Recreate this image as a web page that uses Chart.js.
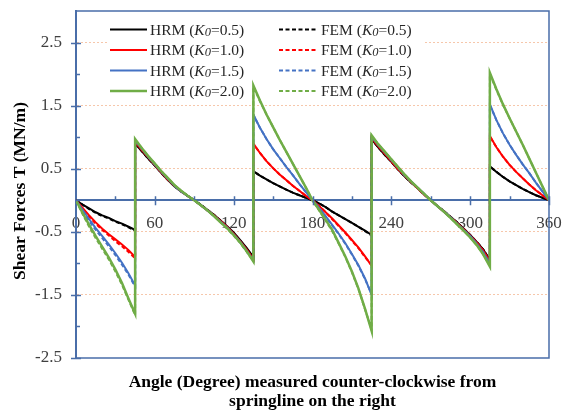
<!DOCTYPE html>
<html>
<head>
<meta charset="utf-8">
<script src="https://cdn.jsdelivr.net/npm/chart.js@4.4.1/dist/chart.umd.min.js"></script>
<style>
html, body { margin: 0; padding: 0; background: #fff; }
</style>
</head>
<body>
<canvas id="shearChart" width="562" height="414"></canvas>
<script>
// angle around the lining (deg); repeated angles are the jumps at 45/135/225/315
let angles = [
    0, 5, 10, 15, 20, 25, 30, 35, 40, 45,
    45, 50, 55, 60, 65, 70, 75, 80, 85, 90, 95, 100, 105, 110, 115, 120, 125, 130, 135,
    135, 140, 145, 150, 155, 160, 165, 170, 175, 180, 185, 190, 195, 200, 205, 210, 215, 220, 225,
    225, 230, 235, 240, 245, 250, 255, 260, 265, 270, 275, 280, 285, 290, 295, 300, 305, 310, 315,
    315, 320, 325, 330, 335, 340, 345, 350, 355, 360
];

// HRM shear force T (MN/m)
let hrmK05 = [
    0, -0.07, -0.13, -0.19, -0.24, -0.28, -0.33, -0.37, -0.42, -0.47,
    0.90, 0.78, 0.66, 0.55, 0.43, 0.32, 0.22, 0.14, 0.07, 0, -0.07, -0.15, -0.23, -0.32, -0.41, -0.51, -0.63, -0.76, -0.90,
    0.46, 0.39, 0.33, 0.27, 0.22, 0.17, 0.12, 0.08, 0.04, 0, -0.05, -0.11, -0.18, -0.24, -0.30, -0.36, -0.42, -0.48, -0.55,
    0.97, 0.84, 0.72, 0.61, 0.49, 0.38, 0.28, 0.19, 0.09, 0, -0.09, -0.17, -0.26, -0.35, -0.45, -0.55, -0.66, -0.78, -0.95,
    0.54, 0.45, 0.37, 0.30, 0.24, 0.18, 0.13, 0.08, 0.04, 0
];
let hrmK10 = [
    0, -0.12, -0.24, -0.35, -0.45, -0.54, -0.62, -0.70, -0.79, -0.90,
    0.93, 0.80, 0.68, 0.56, 0.44, 0.33, 0.23, 0.14, 0.07, 0, -0.08, -0.16, -0.24, -0.33, -0.42, -0.53, -0.65, -0.78, -0.93,
    0.90, 0.75, 0.62, 0.51, 0.41, 0.32, 0.23, 0.15, 0.07, 0, -0.09, -0.19, -0.29, -0.40, -0.51, -0.63, -0.75, -0.89, -1.04,
    0.99, 0.86, 0.74, 0.62, 0.50, 0.39, 0.29, 0.19, 0.09, 0, -0.09, -0.18, -0.27, -0.36, -0.46, -0.56, -0.67, -0.80, -0.97,
    1.02, 0.84, 0.69, 0.56, 0.45, 0.35, 0.25, 0.16, 0.08, 0
];
let hrmK15 = [
    0, -0.15, -0.30, -0.44, -0.57, -0.70, -0.84, -0.99, -1.16, -1.35,
    0.95, 0.82, 0.69, 0.57, 0.45, 0.34, 0.23, 0.14, 0.07, 0, -0.08, -0.16, -0.25, -0.34, -0.43, -0.54, -0.66, -0.80, -0.95,
    1.36, 1.15, 0.97, 0.81, 0.67, 0.53, 0.40, 0.26, 0.13, 0, -0.12, -0.25, -0.39, -0.53, -0.68, -0.85, -1.03, -1.24, -1.50,
    1.01, 0.88, 0.76, 0.64, 0.52, 0.40, 0.30, 0.20, 0.10, 0, -0.09, -0.18, -0.27, -0.37, -0.47, -0.57, -0.69, -0.83, -1.01,
    1.52, 1.27, 1.06, 0.88, 0.72, 0.57, 0.43, 0.28, 0.14, 0
];
let hrmK20 = [
    0, -0.20, -0.39, -0.57, -0.74, -0.91, -1.10, -1.31, -1.56, -1.80,
    0.97, 0.83, 0.70, 0.58, 0.46, 0.35, 0.24, 0.15, 0.07, 0, -0.08, -0.16, -0.25, -0.35, -0.44, -0.55, -0.67, -0.81, -0.97,
    1.82, 1.58, 1.36, 1.16, 0.96, 0.77, 0.58, 0.39, 0.20, 0, -0.15, -0.31, -0.47, -0.68, -0.89, -1.13, -1.40, -1.72, -2.07,
    1.03, 0.89, 0.77, 0.65, 0.53, 0.41, 0.30, 0.20, 0.10, 0, -0.09, -0.18, -0.28, -0.38, -0.48, -0.59, -0.71, -0.86, -1.05,
    2.02, 1.76, 1.52, 1.30, 1.09, 0.88, 0.66, 0.44, 0.22, 0
];

// FEM shear force T (MN/m)
let femK05 = [
    0, -0.07, -0.14, -0.20, -0.25, -0.29, -0.34, -0.38, -0.43, -0.48,
    0.91, 0.78, 0.66, 0.55, 0.43, 0.32, 0.22, 0.14, 0.07, 0, -0.07, -0.15, -0.23, -0.32, -0.42, -0.52, -0.64, -0.77, -0.91,
    0.46, 0.39, 0.33, 0.27, 0.22, 0.17, 0.12, 0.08, 0.04, 0, -0.05, -0.11, -0.18, -0.24, -0.30, -0.36, -0.42, -0.49, -0.56,
    0.97, 0.84, 0.72, 0.61, 0.49, 0.38, 0.28, 0.19, 0.09, 0, -0.09, -0.17, -0.26, -0.35, -0.45, -0.55, -0.66, -0.78, -0.95,
    0.53, 0.45, 0.37, 0.30, 0.24, 0.18, 0.13, 0.08, 0.04, 0
];
let femK10 = [
    0, -0.13, -0.26, -0.37, -0.47, -0.56, -0.65, -0.73, -0.82, -0.92,
    0.93, 0.80, 0.68, 0.56, 0.44, 0.33, 0.23, 0.14, 0.07, 0, -0.08, -0.16, -0.24, -0.33, -0.43, -0.54, -0.66, -0.79, -0.94,
    0.89, 0.75, 0.62, 0.51, 0.41, 0.32, 0.23, 0.15, 0.07, 0, -0.09, -0.19, -0.30, -0.41, -0.52, -0.64, -0.76, -0.90, -1.03,
    0.99, 0.86, 0.74, 0.62, 0.50, 0.39, 0.29, 0.19, 0.09, 0, -0.09, -0.18, -0.27, -0.36, -0.46, -0.56, -0.67, -0.80, -0.97,
    1.01, 0.84, 0.69, 0.56, 0.45, 0.35, 0.25, 0.16, 0.08, 0
];
let femK15 = [
    0, -0.17, -0.33, -0.47, -0.60, -0.73, -0.87, -1.02, -1.18, -1.37,
    0.95, 0.82, 0.69, 0.57, 0.45, 0.34, 0.23, 0.14, 0.07, 0, -0.08, -0.16, -0.25, -0.34, -0.44, -0.55, -0.67, -0.81, -0.96,
    1.35, 1.15, 0.97, 0.81, 0.67, 0.53, 0.40, 0.26, 0.13, 0, -0.12, -0.26, -0.40, -0.54, -0.69, -0.86, -1.04, -1.25, -1.49,
    1.01, 0.88, 0.76, 0.64, 0.52, 0.40, 0.30, 0.20, 0.10, 0, -0.09, -0.18, -0.27, -0.37, -0.47, -0.57, -0.69, -0.83, -1.01,
    1.51, 1.27, 1.06, 0.88, 0.72, 0.57, 0.43, 0.28, 0.14, 0
];
let femK20 = [
    0, -0.22, -0.42, -0.60, -0.77, -0.94, -1.13, -1.34, -1.58, -1.82,
    0.96, 0.83, 0.70, 0.58, 0.46, 0.35, 0.24, 0.15, 0.07, 0, -0.08, -0.16, -0.25, -0.35, -0.45, -0.56, -0.68, -0.82, -0.96,
    1.80, 1.57, 1.36, 1.16, 0.96, 0.77, 0.58, 0.39, 0.20, 0, -0.16, -0.32, -0.49, -0.69, -0.90, -1.14, -1.41, -1.73, -2.05,
    1.02, 0.89, 0.77, 0.65, 0.53, 0.41, 0.30, 0.20, 0.10, 0, -0.09, -0.18, -0.28, -0.38, -0.48, -0.59, -0.71, -0.86, -1.04,
    2.00, 1.75, 1.51, 1.30, 1.09, 0.88, 0.66, 0.44, 0.22, 0
];

let k0Labels = ["0.5", "1.0", "1.5", "2.0"];
let seriesColors = ["#000000", "#ff0000", "#4472c4", "#70ad47"];
let hrmSeries = [hrmK05, hrmK10, hrmK15, hrmK20];
let femSeries = [femK05, femK10, femK15, femK20];

// axis ticks
let xLabelTicks = [0, 60, 120, 180, 240, 300, 360];
let xMinorTicks = [30, 90, 150, 210, 270, 330];
let yLabelTicks = [-2.5, -1.5, -0.5, 0.5, 1.5, 2.5];
let yMinorTicks = [-2, -1, 0, 1, 2];

const SERIF = '"Liberation Serif", "Times New Roman", serif';
const AXIS_BLUE = "#4a6ea9";
const FEM_DASH = [4, 2.5];

function toPoints(vals) {
    return angles.map((a, i) => ({ x: a, y: vals[i] }));
}

// higher K0 drawn on top (lower order = drawn later)
let datasets = [];
hrmSeries.forEach((vals, i) => {
    datasets.push({
        label: "HRM",
        k0: k0Labels[i],
        data: toPoints(vals),
        borderColor: seriesColors[i],
        borderWidth: i === 3 ? 2.5 : 2,
        pointRadius: 0,
        tension: 0,
        order: 2 * (3 - i) + 1
    });
});
femSeries.forEach((vals, i) => {
    datasets.push({
        label: "FEM",
        k0: k0Labels[i],
        data: toPoints(vals),
        borderColor: seriesColors[i],
        borderWidth: 2,
        borderDash: FEM_DASH,
        pointRadius: 0,
        tension: 0,
        order: 2 * (3 - i)
    });
});

// legend box, frame, tick marks and axis titles
const framePlugin = {
    id: "framePlugin",
    beforeDatasetsDraw(chart) {
        let ctx = chart.ctx;
        ctx.save();
        ctx.fillStyle = "#ffffff";
        ctx.fillRect(107, 15, 316, 86);
        let cols = [{ x0: 110, x1: 147, tx: 150 }, { x0: 279, x1: 316, tx: 321 }];
        chart.data.datasets.forEach((ds, i) => {
            let col = cols[i < 4 ? 0 : 1];
            let y = 29.5 + 20.5 * (i % 4);
            ctx.strokeStyle = ds.borderColor;
            ctx.lineWidth = ds.borderWidth;
            ctx.setLineDash(ds.borderDash || []);
            ctx.beginPath();
            ctx.moveTo(col.x0, y);
            ctx.lineTo(col.x1, y);
            ctx.stroke();
            ctx.setLineDash([]);

            ctx.fillStyle = "#262626";
            ctx.textBaseline = "middle";
            ctx.textAlign = "left";
            let x = col.tx;
            let parts = [
                [ds.label + " (", "15.5px " + SERIF, 0],
                ["K", "italic 15.5px " + SERIF, 0],
                ["0", "italic 12.5px " + SERIF, 2],
                ["=" + ds.k0 + ")", "15.5px " + SERIF, 0]
            ];
            parts.forEach(p => {
                ctx.font = p[1];
                ctx.fillText(p[0], x, y + 1 + p[2]);
                x += ctx.measureText(p[0]).width;
            });
        });
        ctx.restore();
    },
    afterDraw(chart) {
        let ctx = chart.ctx;
        let area = chart.chartArea;
        let xs = chart.scales.x;
        let ys = chart.scales.y;
        let y0 = ys.getPixelForValue(0);
        ctx.save();
        ctx.strokeStyle = AXIS_BLUE;

        // top, right and bottom edges of the plot box
        ctx.lineWidth = 1.5;
        ctx.beginPath();
        ctx.moveTo(area.left, area.top);
        ctx.lineTo(area.right, area.top);
        ctx.lineTo(area.right, area.bottom);
        ctx.lineTo(area.left, area.bottom);
        ctx.stroke();

        ctx.lineWidth = 1.5;
        ctx.beginPath();
        yLabelTicks.forEach(v => {
            let p = Math.round(ys.getPixelForValue(v)) + 0.5;
            ctx.moveTo(area.left - 5, p);
            ctx.lineTo(area.left + 5, p);
        });
        yMinorTicks.forEach(v => {
            let p = Math.round(ys.getPixelForValue(v)) + 0.5;
            ctx.moveTo(area.left, p);
            ctx.lineTo(area.left + 4, p);
        });
        xLabelTicks.slice(1).forEach(v => {
            let p = Math.round(xs.getPixelForValue(v)) + 0.5;
            ctx.moveTo(p, y0 - 4);
            ctx.lineTo(p, y0 + 5);
        });
        xMinorTicks.forEach(v => {
            let p = Math.round(xs.getPixelForValue(v)) + 0.5;
            ctx.moveTo(p, y0 - 4);
            ctx.lineTo(p, y0);
        });
        ctx.stroke();

        // axis titles
        ctx.fillStyle = "#000000";
        ctx.textAlign = "center";
        ctx.textBaseline = "middle";
        let cx = (area.left + area.right) / 2;
        ctx.font = "bold 17.5px " + SERIF;
        ctx.fillText("Angle (Degree) measured counter-clockwise from", cx, 382);
        ctx.fillText("springline on the right", cx, 401);

        ctx.font = "bold 17.5px " + SERIF;
        ctx.translate(20, 191);
        ctx.rotate(-Math.PI / 2);
        ctx.fillText("Shear Forces T (MN/m)", 0, 0);
        ctx.restore();
    }
};

let ctx = document.getElementById("shearChart").getContext("2d");
let shearChart = new Chart(ctx, {
    type: "line",
    data: { datasets: datasets },
    options: {
        responsive: false,
        animation: false,
        layout: { padding: { left: 0, top: 11, right: 13, bottom: 56 } },
        plugins: {
            legend: { display: false },
            tooltip: { enabled: false }
        },
        scales: {
            x: {
                type: "linear",
                min: 0,
                max: 360,
                position: { y: 0 },
                afterBuildTicks: scale => {
                    scale.ticks = xLabelTicks.map(v => ({ value: v }));
                },
                afterFit: scale => {
                    // labels may hang past the plot edges
                    scale.paddingLeft = 0;
                    scale.paddingRight = 0;
                },
                ticks: {
                    color: "#404040",
                    font: { family: SERIF, size: 17 },
                    padding: 13,
                    maxRotation: 0,
                    autoSkip: false
                },
                grid: { display: false, drawTicks: false },
                border: { display: true, color: AXIS_BLUE, width: 2 }
            },
            y: {
                min: -2.5,
                max: 3,
                afterBuildTicks: scale => {
                    scale.ticks = yLabelTicks.map(v => ({ value: v }));
                },
                afterFit: scale => {
                    scale.width = 76;
                    scale.paddingTop = 0;
                    scale.paddingBottom = 0;
                },
                ticks: {
                    color: "#404040",
                    font: { family: SERIF, size: 17 },
                    padding: 14,
                    callback: v => v.toFixed(1)
                },
                grid: {
                    drawTicks: false,
                    lineWidth: 1,
                    color: c => (c.tick && c.tick.value === -2.5) ? "rgba(0,0,0,0)" : "#f6c7ab"
                },
                border: { display: true, color: AXIS_BLUE, width: 2, dash: [2, 2] }
            }
        }
    },
    plugins: [framePlugin]
});
</script>
</body>
</html>
